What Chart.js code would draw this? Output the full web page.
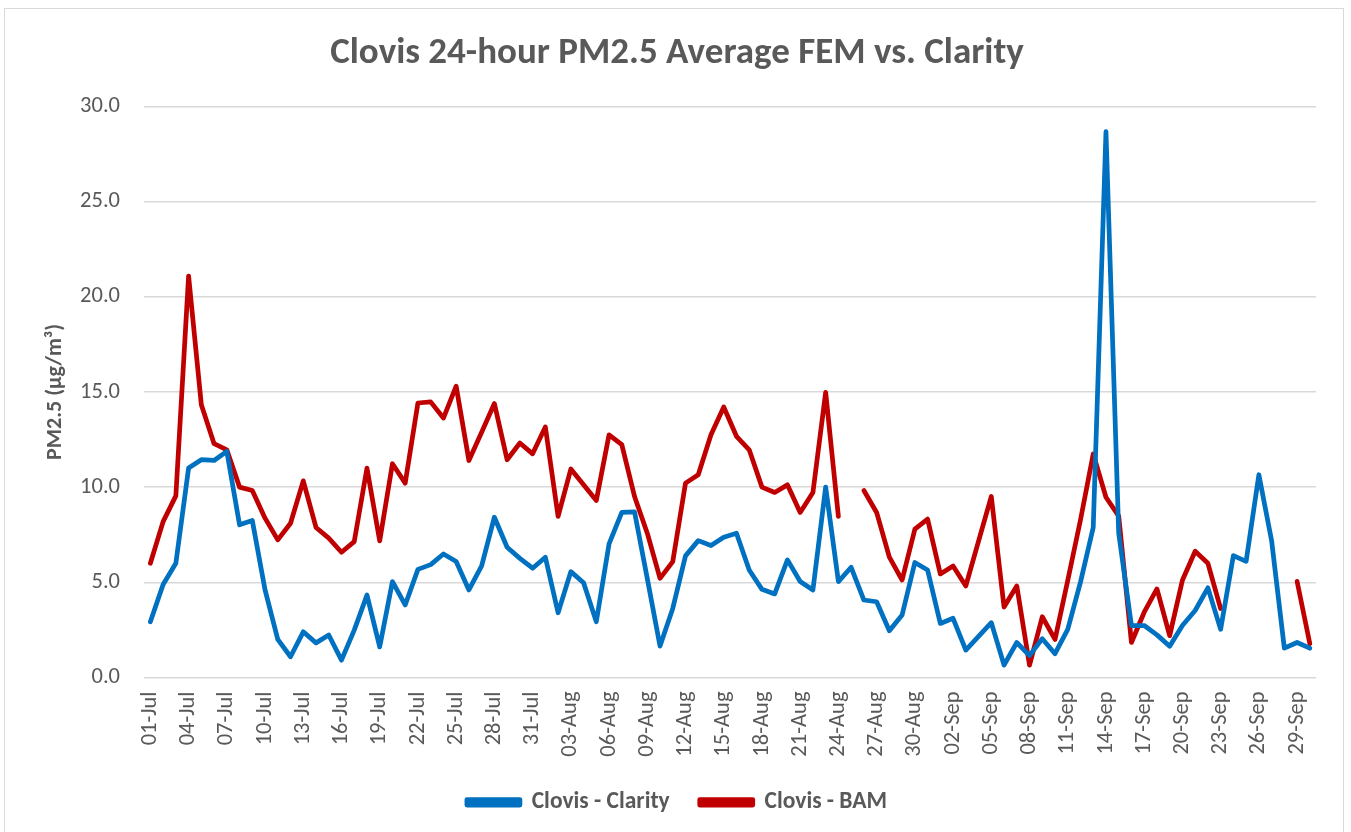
<!DOCTYPE html>
<html>
<head>
<meta charset="utf-8">
<script src="https://cdn.jsdelivr.net/npm/chart.js@4.4.1/dist/chart.umd.min.js"></script>
<style>
  html, body { margin: 0; padding: 0; background: #ffffff; }
  #wrap { position: absolute; left: 0; top: 0; width: 1351px; height: 832px; }
  #frame { position: absolute; left: 4px; top: 8px; width: 1340px; height: 830px; border: 1px solid #d9d9d9; box-sizing: border-box; }
  canvas { position: absolute; left: 0; top: 0; }
</style>
</head>
<body>
<div id="wrap">
  <div id="frame"></div>
  <canvas id="c" width="1351" height="832"></canvas>
</div>
<script>
const chartTitle = 'Clovis 24-hour PM2.5 Average FEM vs. Clarity';
const yAxisTitle = 'PM2.5 (µg/m³)';
const seriesNames = ['Clovis - Clarity', 'Clovis - BAM'];

const categories = [
  '01-Jul','02-Jul','03-Jul','04-Jul','05-Jul','06-Jul','07-Jul','08-Jul','09-Jul','10-Jul',
  '11-Jul','12-Jul','13-Jul','14-Jul','15-Jul','16-Jul','17-Jul','18-Jul','19-Jul','20-Jul',
  '21-Jul','22-Jul','23-Jul','24-Jul','25-Jul','26-Jul','27-Jul','28-Jul','29-Jul','30-Jul',
  '31-Jul','01-Aug','02-Aug','03-Aug','04-Aug','05-Aug','06-Aug','07-Aug','08-Aug','09-Aug',
  '10-Aug','11-Aug','12-Aug','13-Aug','14-Aug','15-Aug','16-Aug','17-Aug','18-Aug','19-Aug',
  '20-Aug','21-Aug','22-Aug','23-Aug','24-Aug','25-Aug','26-Aug','27-Aug','28-Aug','29-Aug',
  '30-Aug','31-Aug','01-Sep','02-Sep','03-Sep','04-Sep','05-Sep','06-Sep','07-Sep','08-Sep',
  '09-Sep','10-Sep','11-Sep','12-Sep','13-Sep','14-Sep','15-Sep','16-Sep','17-Sep','18-Sep',
  '19-Sep','20-Sep','21-Sep','22-Sep','23-Sep','24-Sep','25-Sep','26-Sep','27-Sep','28-Sep',
  '29-Sep','30-Sep'
];

const clarity = [
  2.93, 4.89, 6.0, 11.0, 11.44, 11.4, 11.88, 8.02, 8.25, 4.6,
  2.0, 1.09, 2.4, 1.82, 2.23, 0.91, 2.49, 4.33, 1.61, 5.04,
  3.81, 5.68, 5.93, 6.49, 6.09, 4.6, 5.86, 8.42, 6.84, 6.26,
  5.74, 6.32, 3.4, 5.56, 4.98, 2.93, 7.02, 8.67, 8.7, 5.2,
  1.65, 3.63, 6.39, 7.19, 6.93, 7.37, 7.58, 5.65, 4.63, 4.39,
  6.18, 5.04, 4.6, 10.0, 5.04, 5.79, 4.07, 3.98, 2.46, 3.28,
  6.04, 5.65, 2.84, 3.11, 1.44, 2.16, 2.88, 0.65, 1.84, 1.15,
  2.04, 1.25, 2.53, 5.01, 7.88, 28.67, 7.58, 2.73, 2.73, 2.24,
  1.64, 2.73, 3.52, 4.71, 2.53, 6.4, 6.1, 10.65, 7.19, 1.54,
  1.84, 1.54
];

const bam = [
  6.0, 8.19, 9.54, 21.09, 14.33, 12.28, 11.96, 10.0, 9.82, 8.37,
  7.23, 8.1, 10.33, 7.88, 7.32, 6.58, 7.14, 11.0, 7.18, 11.23,
  10.21, 14.42, 14.48, 13.63, 15.3, 11.4, 12.88, 14.39, 11.44, 12.32,
  11.75, 13.16, 8.46, 10.95, 10.12, 9.3, 12.75, 12.23, 9.51, 7.58,
  5.21, 6.09, 10.21, 10.65, 12.75, 14.21, 12.67, 11.96, 10.0, 9.72,
  10.12, 8.67, 9.72, 14.98, 8.46, null, 9.82, 8.67, 6.32, 5.12,
  7.79, 8.32, 5.44, 5.86, 4.81, 7.16, 9.51, 3.7, 4.81, 0.65,
  3.19, 2.0, 5.1, 8.28, 11.74, 9.47, 8.48, 1.84, 3.43, 4.65,
  2.2, 5.11, 6.63, 6.0, 3.62, null, null, null, null, null,
  5.05, 1.78
];

const yTicks = [0, 5, 10, 15, 20, 25, 30];

const FONT = "Carlito, Calibri, Lato, 'Open Sans', sans-serif";
const TXT = '#595959';

new Chart(document.getElementById('c'), {
  type: 'line',
  data: {
    labels: categories,
    datasets: [
      { label: seriesNames[0], data: clarity, borderColor: '#0070C0', backgroundColor: '#0070C0',
        borderWidth: 4.75, pointRadius: 0, tension: 0, spanGaps: false, borderJoinStyle: 'round', borderCapStyle: 'round' },
      { label: seriesNames[1], data: bam, borderColor: '#C00000', backgroundColor: '#C00000',
        borderWidth: 4.75, pointRadius: 0, tension: 0, spanGaps: false, borderJoinStyle: 'round', borderCapStyle: 'round' }
    ]
  },
  options: {
    responsive: false,
    animation: false,
    layout: { padding: { left: 34, right: 31, top: 14, bottom: 8 } },
    plugins: {
      title: { display: true, text: chartTitle, color: TXT,
        font: { family: FONT, size: 37, weight: 'bold', lineHeight: 1.2 }, padding: { top: 18, bottom: 30 } },
      legend: { position: 'bottom',
        labels: { color: TXT, font: { family: FONT, size: 23.5, weight: 'bold' },
          boxWidth: 53, boxHeight: 5.5, padding: 30 } },
      tooltip: { enabled: false }
    },
    scales: {
      x: {
        offset: true,
        afterFit: function(s) { s.height = 83; },
        grid: { display: false, drawTicks: false },
        border: { display: false },
        ticks: { color: TXT, font: { family: FONT, size: 22.5 }, autoSkip: false,
          maxRotation: 90, minRotation: 90, padding: 14,
          callback: function(v, i) { return i % 3 === 0 ? categories[i] : ''; } }
      },
      y: {
        min: 0, max: 30,
        afterFit: function(s) { s.width = 110; },
        afterBuildTicks: function(axis) { axis.ticks = yTicks.map(v => ({ value: v })); },
        grid: { color: '#d9d9d9', lineWidth: 1.5, drawTicks: false },
        border: { display: false },
        ticks: { color: TXT, font: { family: FONT, size: 22.5 }, padding: 24,
          callback: function(v) { return Number(v).toFixed(1); } },
        title: { display: true, text: yAxisTitle, color: TXT,
          font: { family: FONT, size: 22, weight: 'bold' }, padding: { top: 8, bottom: 0 } }
      }
    }
  }
});
</script>
</body>
</html>
